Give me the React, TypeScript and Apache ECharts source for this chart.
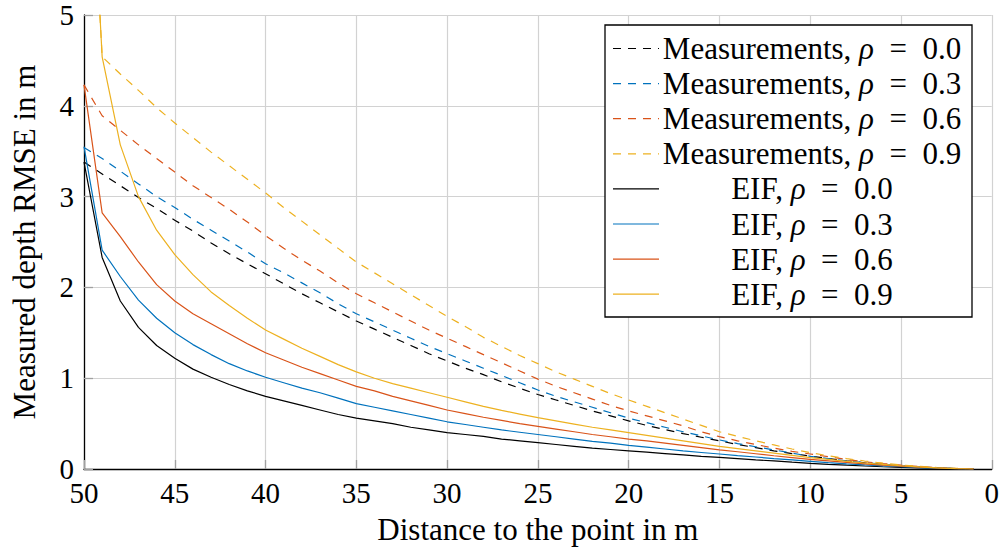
import React, { useEffect, useRef } from "react";
import * as echarts from "echarts";

// Distance to the observed point (m), sampled once per metre
const distances = [
  50, 49, 48, 47, 46, 45, 44, 43, 42, 41, 40, 39, 38, 37, 36, 35, 34, 33, 32, 31,
  30, 29, 28, 27, 26, 25, 24, 23, 22, 21, 20, 19, 18, 17, 16, 15, 14, 13, 12, 11,
  10, 9, 8, 7, 6, 5, 4, 3, 2, 1,
];

// Raw measurement depth RMSE (m) per correlation coefficient
const meas00 = [
  3.38, 3.25, 3.12, 2.99, 2.87, 2.74, 2.62, 2.49, 2.37, 2.26, 2.15, 2.04, 1.93, 1.83, 1.73, 1.63, 1.54, 1.45, 1.36, 1.27,
  1.19, 1.11, 1.04, 0.96, 0.89, 0.82, 0.76, 0.7, 0.64, 0.585, 0.53, 0.48, 0.435, 0.39, 0.35, 0.31, 0.27, 0.235, 0.2, 0.17,
  0.143, 0.115, 0.09, 0.068, 0.05, 0.035, 0.022, 0.012, 0.005, 0,
];
const meas03 = [
  3.54, 3.42, 3.28, 3.14, 3.0, 2.88, 2.75, 2.63, 2.51, 2.39, 2.26, 2.16, 2.05, 1.94, 1.82, 1.71, 1.62, 1.53, 1.44, 1.35,
  1.27, 1.19, 1.11, 1.03, 0.95, 0.87, 0.8, 0.74, 0.68, 0.62, 0.56, 0.51, 0.46, 0.41, 0.365, 0.32, 0.28, 0.245, 0.21, 0.175,
  0.14, 0.115, 0.09, 0.07, 0.052, 0.036, 0.023, 0.013, 0.005, 0,
];
const meas06 = [
  4.23, 3.89, 3.73, 3.57, 3.42, 3.27, 3.12, 2.99, 2.86, 2.72, 2.57, 2.43, 2.3, 2.18, 2.05, 1.93, 1.83, 1.73, 1.63, 1.53,
  1.44, 1.35, 1.26, 1.17, 1.08, 0.99, 0.91, 0.84, 0.77, 0.7, 0.64, 0.585, 0.53, 0.475, 0.41, 0.356, 0.31, 0.27, 0.23, 0.195,
  0.165, 0.135, 0.105, 0.08, 0.06, 0.042, 0.027, 0.015, 0.006, 0,
];
const meas09 = [
  8.3, 4.54, 4.35, 4.17, 3.98, 3.81, 3.65, 3.49, 3.34, 3.19, 3.04, 2.88, 2.73, 2.58, 2.43, 2.28, 2.16, 2.04, 1.92, 1.8,
  1.68, 1.57, 1.45, 1.35, 1.25, 1.16, 1.07, 0.99, 0.91, 0.83, 0.76, 0.69, 0.62, 0.55, 0.48, 0.41, 0.36, 0.31, 0.265, 0.22,
  0.18, 0.145, 0.115, 0.088, 0.065, 0.045, 0.029, 0.016, 0.007, 0,
];

// EIF-filtered depth RMSE (m) per correlation coefficient
const eif00 = [
  3.38, 2.33, 1.85, 1.56, 1.36, 1.22, 1.1, 1.01, 0.93, 0.86, 0.8, 0.75, 0.7, 0.65, 0.6, 0.56, 0.53, 0.5, 0.46, 0.43,
  0.4, 0.38, 0.36, 0.33, 0.31, 0.29, 0.27, 0.25, 0.23, 0.215, 0.2, 0.185, 0.17, 0.155, 0.14, 0.128, 0.115, 0.1, 0.09, 0.075,
  0.063, 0.052, 0.042, 0.033, 0.025, 0.018, 0.012, 0.007, 0.003, 0,
];
const eif03 = [
  3.55, 2.41, 2.12, 1.86, 1.66, 1.5, 1.37, 1.26, 1.16, 1.08, 1.01, 0.95, 0.89, 0.84, 0.78, 0.72, 0.68, 0.64, 0.6, 0.56,
  0.52, 0.49, 0.46, 0.43, 0.405, 0.38, 0.355, 0.33, 0.305, 0.285, 0.26, 0.24, 0.22, 0.2, 0.182, 0.165, 0.148, 0.132, 0.115, 0.1,
  0.085, 0.07, 0.057, 0.045, 0.034, 0.025, 0.016, 0.009, 0.004, 0,
];
const eif06 = [
  4.23, 2.82, 2.56, 2.28, 2.03, 1.85, 1.71, 1.6, 1.49, 1.38, 1.28, 1.2, 1.12, 1.05, 0.98, 0.91, 0.86, 0.8, 0.75, 0.7,
  0.65, 0.61, 0.57, 0.535, 0.5, 0.47, 0.44, 0.41, 0.38, 0.355, 0.33, 0.31, 0.285, 0.26, 0.235, 0.21, 0.19, 0.168, 0.146, 0.126,
  0.107, 0.09, 0.073, 0.057, 0.043, 0.031, 0.02, 0.011, 0.005, 0,
];
const eif09 = [
  8.3, 4.54, 3.57, 3.0, 2.63, 2.36, 2.14, 1.95, 1.8, 1.66, 1.53, 1.43, 1.33, 1.24, 1.15, 1.07, 1.0, 0.94, 0.89, 0.84,
  0.79, 0.74, 0.69, 0.645, 0.605, 0.565, 0.53, 0.495, 0.46, 0.43, 0.4, 0.37, 0.34, 0.31, 0.28, 0.25, 0.225, 0.2, 0.175, 0.15,
  0.125, 0.105, 0.085, 0.066, 0.05, 0.036, 0.023, 0.013, 0.005, 0,
];

const rhoLabels = ["0.0", "0.3", "0.6", "0.9"];
const colors = ["#000000", "#0072BD", "#D95319", "#EDB120"];
const xTicks = [0, 5, 10, 15, 20, 25, 30, 35, 40, 45, 50];
const yTicks = [0, 1, 2, 3, 4, 5];

const FONT = "'Liberation Serif', 'DejaVu Serif', serif";
const TICK_FS = 29;
const TEXT_FS = 31;
const DASH = [8, 7];
const EN = "\u2002";

const pair = (ys: number[]) => distances.map((d, i) => [d, ys[i]]);

export default function App() {
  const ref = useRef<HTMLDivElement>(null);

  useEffect(() => {
    if (!ref.current) return;
    const chart = echarts.init(ref.current, null, { renderer: "svg" });

    const measurementSets = [meas00, meas03, meas06, meas09];
    const eifSets = [eif00, eif03, eif06, eif09];

    const series: any[] = [];
    measurementSets.forEach((ys, k) => {
      series.push({
        name: `Measurements, ρ = ${rhoLabels[k]}`,
        type: "line",
        data: pair(ys),
        showSymbol: false,
        symbol: "none",
        clip: true,
        lineStyle: { color: colors[k], width: 1.2, type: DASH },
        z: 2,
      });
    });
    eifSets.forEach((ys, k) => {
      series.push({
        name: `EIF, ρ = ${rhoLabels[k]}`,
        type: "line",
        data: pair(ys),
        showSymbol: false,
        symbol: "none",
        clip: true,
        lineStyle: { color: colors[k], width: 1.2, type: "solid" },
        z: 3,
      });
    });

    // Legend box drawn as graphics: line sample on the left, centred label on the right
    const legendLeft = 605;
    const legendTop = 25;
    const legendW = 367;
    const legendH = 292;
    const rowY0 = 48.5;
    const rowStep = 35.1;
    const textCx = 812;
    const rich = {
      n: { fontFamily: FONT, fontSize: TEXT_FS, fill: "#000" },
      i: { fontFamily: FONT, fontSize: TEXT_FS, fontStyle: "italic", fill: "#000" },
    };
    const legendItems: any[] = [
      {
        type: "rect",
        shape: { x: legendLeft, y: legendTop, width: legendW, height: legendH },
        style: { fill: "#fff", stroke: "#000", lineWidth: 1.3 },
        z: 100,
      },
    ];
    const entries = [
      ...rhoLabels.map((r, k) => ({ label: "Measurements, ", rho: r, color: colors[k], dashed: true })),
      ...rhoLabels.map((r, k) => ({ label: "EIF, ", rho: r, color: colors[k], dashed: false })),
    ];
    entries.forEach((e, idx) => {
      const y = rowY0 + idx * rowStep;
      legendItems.push({
        type: "line",
        shape: { x1: 613, y1: y, x2: 659, y2: y },
        style: { stroke: e.color, lineWidth: 1.2, lineDash: e.dashed ? DASH : null },
        z: 101,
      });
      legendItems.push({
        type: "text",
        x: textCx,
        y: y,
        style: {
          text: `{n|${e.label}}{i|ρ}{n|${EN}=${EN}${e.rho}}`,
          rich,
          align: "center",
          verticalAlign: "middle",
          fontFamily: FONT,
          fontSize: TEXT_FS,
        },
        z: 101,
      });
    });

    chart.setOption({
      animation: false,
      backgroundColor: "#fff",
      grid: { left: 84, right: 10, top: 15, bottom: 81, containLabel: false },
      xAxis: {
        type: "value",
        inverse: true,
        min: 0,
        max: 50,
        interval: 5,
        name: "Distance to the point in m",
        nameLocation: "middle",
        nameGap: 45,
        nameTextStyle: { fontFamily: FONT, fontSize: TEXT_FS, color: "#000" },
        axisLine: { show: true, onZero: false, lineStyle: { color: "#000", width: 1.3 } },
        axisTick: { show: true, inside: true, length: 9, lineStyle: { color: "#a0a0a0", width: 1.3 } },
        axisLabel: {
          fontFamily: FONT,
          fontSize: TICK_FS,
          lineHeight: 24,
          color: "#000",
          margin: 12,
          formatter: (v: number) => (xTicks.includes(v) ? String(v) : ""),
        },
        splitLine: { show: true, lineStyle: { color: "#d2d2d2", width: 1.2 } },
      },
      yAxis: {
        type: "value",
        min: 0,
        max: 5,
        interval: 1,
        name: "Measured depth RMSE in m",
        nameLocation: "middle",
        nameGap: 44,
        nameTextStyle: { fontFamily: FONT, fontSize: TEXT_FS, color: "#000" },
        axisLine: { show: true, onZero: false, lineStyle: { color: "#000", width: 1.3 } },
        axisTick: { show: true, inside: true, length: 9, lineStyle: { color: "#a0a0a0", width: 1.3 } },
        axisLabel: {
          fontFamily: FONT,
          fontSize: TICK_FS,
          lineHeight: 24,
          color: "#000",
          margin: 10,
          formatter: (v: number) => (yTicks.includes(v) ? String(v) : ""),
        },
        splitLine: { show: true, lineStyle: { color: "#d2d2d2", width: 1.2 } },
      },
      series,
      graphic: legendItems,
    });

    return () => chart.dispose();
  }, []);

  return (
    <div
      ref={ref}
      style={{ position: "absolute", left: 0, top: 0, width: 1002, height: 550 }}
    />
  );
}
